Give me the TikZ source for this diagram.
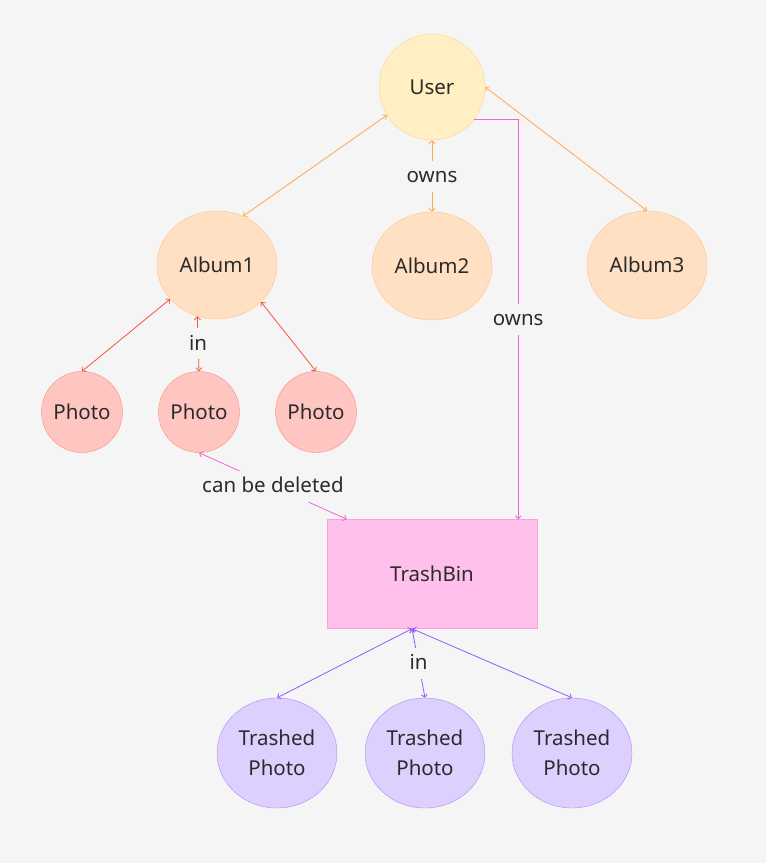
\documentclass[tikz,border=0pt]{standalone}
\usepackage{fontspec}
\setmainfont{Noto Sans}
\usetikzlibrary{arrows.meta, positioning, shapes.geometric, calc}

\begin{document}
\begin{tikzpicture}[x=1pt, y=-1pt, font=\fontsize{20.5}{24}\selectfont,
  >={Straight Barb[length=3pt, width=6pt]},
  every node/.style={text=textgray},
  usernode/.style={circle, draw=userline, fill=userfill, minimum size=106pt, inner sep=0pt},
  albumnode/.style={ellipse, draw=albumline, fill=albumfill, minimum width=120pt, minimum height=108pt, inner sep=0pt},
  photonode/.style={circle, draw=photoline, fill=photofill, minimum size=81pt, inner sep=0pt},
  binnode/.style={rectangle, draw=binline, fill=binfill, minimum width=210pt, minimum height=109pt},
  trashnode/.style={ellipse, draw=trashline, fill=trashfill, minimum width=120pt, minimum height=110pt, inner sep=0pt, align=center, font=\fontsize{20.5}{30}\selectfont},
  ownsedge/.style={<->, draw=ownscol, line width=0.8pt},
  inedge/.style={<->, draw=incol, line width=0.8pt},
  deledge/.style={draw=delcol, line width=0.8pt},
  trashedge/.style={<->, draw=trashcol, line width=0.8pt},
  lbl/.style={fill=bgcol, inner xsep=5pt, inner ysep=9pt, text height=13pt, text depth=0pt}]

  % Define colors
  \definecolor{bgcol}{HTML}{F5F5F5}
  \definecolor{textgray}{HTML}{2B2B2B}
  \definecolor{userfill}{HTML}{FFEFC2}
  \definecolor{userline}{HTML}{FAD88A}
  \definecolor{albumfill}{HTML}{FFE0C2}
  \definecolor{albumline}{HTML}{FDC28A}
  \definecolor{photofill}{HTML}{FFC6C1}
  \definecolor{photoline}{HTML}{F5907F}
  \definecolor{binfill}{HTML}{FFC1EC}
  \definecolor{binline}{HTML}{F7A3DD}
  \definecolor{trashfill}{HTML}{DDD0FF}
  \definecolor{trashline}{HTML}{A78BF7}
  \definecolor{ownscol}{HTML}{FFA94D}
  \definecolor{incol}{HTML}{F4553B}
  \definecolor{delcol}{HTML}{F066CF}
  \definecolor{trashcol}{HTML}{8F5CF7}

  % Background
  \fill[bgcol] (0,0) rectangle (766,863);

  % User and albums
  \node[usernode] (user) at (432,87) {User};
  \node[albumnode] (album1) at (217,265) {Album1};
  \node[albumnode] (album2) at (432,266) {Album2};
  \node[albumnode] (album3) at (647,265) {Album3};

  % Photos of Album1
  \node[photonode] (photo1) at (82,412) {Photo};
  \node[photonode] (photo2) at (199,412) {Photo};
  \node[photonode] (photo3) at (316,412) {Photo};

  % Trash bin and trashed photos
  \node[binnode] (trashbin) at (432,574) {TrashBin};
  \node[trashnode] (trashed1) at (277,753) {Trashed\\Photo};
  \node[trashnode] (trashed2) at (425,753) {Trashed\\Photo};
  \node[trashnode] (trashed3) at (572,753) {Trashed\\Photo};

  % Anchor points on the bin
  \coordinate (bin-del) at ($(trashbin.north west)+(20,0)$);
  \coordinate (bin-own) at ($(trashbin.north east)+(-19,0)$);
  \coordinate (bin-in) at ($(trashbin.south)+(-20,0)$);

  % User owns albums
  \draw[ownsedge] (user.212) -- (album1.62);
  \draw[ownsedge] (user.south) -- node[lbl] {owns} (album2.north);
  \draw[ownsedge] (user.east) -- (album3.north);

  % Photos in Album1
  \draw[inedge] (album1.216) -- (photo1.north);
  \draw[inedge] (album1.249) -- node[lbl] {in} (photo2.north);
  \draw[inedge] (album1.320) -- (photo3.north);

  % Trash bin links
  \draw[deledge, ->] (user.323) -| node[lbl, pos=0.75] {owns} (bin-own);
  \draw[deledge, <->] (photo2.south) -- node[lbl] {can be deleted} (bin-del);

  % Trashed photos in the bin
  \draw[trashedge] (bin-in) -- (trashed1.north);
  \draw[trashedge] (bin-in) -- node[lbl] {in} (trashed2.north);
  \draw[trashedge] (bin-in) -- (trashed3.north);

\end{tikzpicture}
\end{document}
